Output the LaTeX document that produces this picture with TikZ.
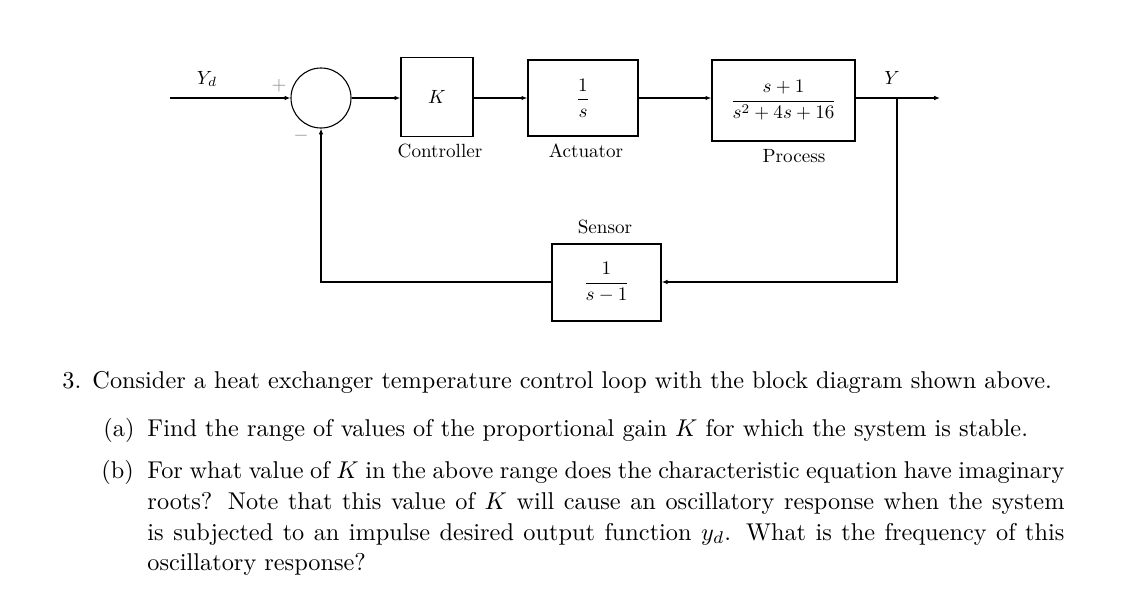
\documentclass[tikz,border=0pt]{standalone}
\usepackage{graphicx}
\usetikzlibrary{arrows.meta}
\newcommand\sm[1]{\scalebox{0.787}{#1}}
\def\u{0.4117pt}
\begin{document}
\begin{tikzpicture}[x=0.4117pt,y=-0.4117pt,
  wire/.style={line width=0.5pt},
  arr/.style={wire,-{Latex[length=2.4pt,width=1.9pt]}},
  blk/.style={draw,line width=0.55pt,inner sep=0pt},
  lbl/.style={anchor=base,inner sep=0pt},
  sgn/.style={inner sep=0pt,text=black!45}]
\useasboundingbox (0,0) rectangle (1134,613);
% diagram
\coordinate (in) at (170,98);
\node[draw,circle,line width=0.45pt,minimum size=60*\u,inner sep=0pt] (sum) at (321,98) {};
\node[blk,minimum width=72*\u,minimum height=79*\u] (K) at (437,97) {\sm{$K$}};
\node[blk,minimum width=110*\u,minimum height=76*\u] (A) at (583,98) {\sm{$\displaystyle\frac{1}{s}$}};
\node[blk,minimum width=143*\u,minimum height=81*\u] (P) at (783.5,100.5) {\sm{$\displaystyle\frac{s+1}{s^2+4s+16}$}};
\node[blk,minimum width=109*\u,minimum height=77*\u] (S) at (606.5,282.5) {\sm{$\displaystyle\frac{1}{s-1}$}};
\coordinate (out) at (940,98);
\coordinate (br) at (897,98);
\coordinate (br2) at (897,282);
\coordinate (fb) at (321,282);
\node[lbl] (lc) at (440,157) {\sm{Controller}};
\node[lbl] (la) at (586,157) {\sm{Actuator}};
\node[lbl] (lp) at (794,162) {\sm{Process}};
\node[lbl] (ls) at (605,233) {\sm{Sensor}};
\node[lbl] (lyd) at (207,84) {\sm{$Y_d$}};
\node[lbl] (ly) at (892,84) {\sm{$Y$}};
\node[sgn] (plus) at (279,86) {\sm{$+$}};
\node[sgn] (minus) at (301,136) {\sm{$-$}};
\draw[arr] (in) -- (sum.west);
\draw[arr] (sum.east) -- (sum.east -| K.west);
\draw[arr] (sum.east -| K.east) -- (sum.east -| A.west);
\draw[arr] (sum.east -| A.east) -- (sum.east -| P.west);
\draw[arr] (sum.east -| P.east) -- (out);
\draw[arr] (br) -- (br2) -- (br2 -| S.east);
\draw[arr] (fb -| S.west) -- (fb) -- (sum.south);
% text
\node[anchor=base west,inner sep=0pt] (n3) at (62,388) {3.};
\node[anchor=base west,inner sep=0pt] (t1) at (92,388) {Consider a heat exchanger temperature control loop with the block diagram shown above.};
\node[anchor=base west,inner sep=0pt] (na) at (103,436) {(a)};
\node[anchor=base west,inner sep=0pt] (ta) at (147,436) {Find the range of values of the proportional gain $K$ for which the system is stable.};
\node[anchor=base west,inner sep=0pt] (nb) at (101,478) {(b)};
\node[anchor=base west,inner sep=0pt,text width=917*\u,align=justify] (tb) at (147,478) {\baselineskip=12.76pt For what value of $K$ in the above range does the characteristic equation have imaginary roots? Note that this value of $K$ will cause an oscillatory response when the system is subjected to an impulse desired output function $y_d$. What is the frequency of this oscillatory response?\par};
\end{tikzpicture}
\end{document}
